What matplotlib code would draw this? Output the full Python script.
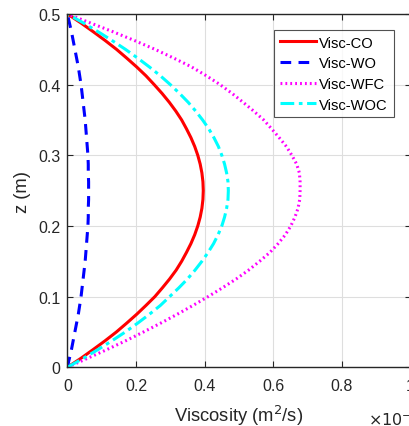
import numpy as np
import matplotlib
matplotlib.use("Agg")
import matplotlib.pyplot as plt

plt.rcParams['font.family'] = ['Liberation Sans', 'DejaVu Sans']

# height (m)
z = [0.0, 0.0125, 0.025, 0.0375, 0.05, 0.0625, 0.075, 0.0875, 0.1, 0.1125,
     0.125, 0.1375, 0.15, 0.1625, 0.175, 0.1875, 0.2, 0.2125, 0.225, 0.2375,
     0.25, 0.2625, 0.275, 0.2875, 0.3, 0.3125, 0.325, 0.3375, 0.35, 0.3625,
     0.375, 0.3875, 0.4, 0.4125, 0.425, 0.4375, 0.45, 0.4625, 0.475, 0.4875, 0.5]

# viscosity (x 1e-3 m^2/s)
visc_co = [0.0, 0.039, 0.075, 0.110, 0.143, 0.173, 0.202, 0.229, 0.255, 0.277,
           0.298, 0.317, 0.333, 0.347, 0.360, 0.371, 0.380, 0.387, 0.392, 0.395,
           0.396, 0.395, 0.392, 0.387, 0.380, 0.371, 0.360, 0.347, 0.333, 0.316,
           0.297, 0.276, 0.253, 0.229, 0.202, 0.173, 0.143, 0.110, 0.075, 0.039, 0.0]
visc_wo = [0.0, 0.006, 0.012, 0.017, 0.022, 0.027, 0.032, 0.036, 0.040, 0.043,
           0.046, 0.049, 0.052, 0.054, 0.056, 0.058, 0.060, 0.061, 0.061, 0.062,
           0.062, 0.062, 0.061, 0.061, 0.060, 0.058, 0.056, 0.054, 0.052, 0.049,
           0.046, 0.043, 0.040, 0.036, 0.032, 0.027, 0.022, 0.017, 0.012, 0.006, 0.0]
visc_wfc = [0.0, 0.058, 0.115, 0.170, 0.222, 0.272, 0.320, 0.366, 0.410, 0.452,
            0.492, 0.528, 0.560, 0.590, 0.614, 0.635, 0.651, 0.663, 0.672, 0.677,
            0.678, 0.678, 0.676, 0.668, 0.654, 0.638, 0.617, 0.595, 0.572, 0.543,
            0.512, 0.480, 0.445, 0.405, 0.362, 0.310, 0.255, 0.195, 0.132, 0.066, 0.0]
visc_woc = [0.0, 0.046, 0.089, 0.130, 0.169, 0.205, 0.239, 0.271, 0.298, 0.325,
            0.350, 0.372, 0.392, 0.410, 0.426, 0.439, 0.450, 0.458, 0.464, 0.468,
            0.469, 0.468, 0.464, 0.458, 0.450, 0.440, 0.427, 0.412, 0.394, 0.374,
            0.352, 0.327, 0.300, 0.271, 0.239, 0.205, 0.169, 0.130, 0.089, 0.046, 0.0]

fig = plt.figure(figsize=(4.09, 4.27), dpi=100)
ax = fig.add_axes([0.1646, 0.1375, 0.8394, 0.8275])

ax.plot(visc_co, z, color='red', lw=2.2, label='Visc-CO')
ax.plot(visc_wo, z, color='blue', lw=2.2, ls=(0, (3.5, 2.4)), label='Visc-WO')
ax.plot(visc_wfc, z, color='magenta', lw=2.2, ls=(0, (0.6, 1.0)), label='Visc-WFC')
ax.plot(visc_woc, z, color='cyan', lw=2.2, ls=(0, (4.5, 1.5, 1.2, 1.5)), label='Visc-WOC')

ax.set_xlim(0, 1)
ax.set_ylim(0, 0.5)
ax.set_xticks([0, 0.2, 0.4, 0.6, 0.8, 1.0])
ax.set_xticklabels(['0', '0.2', '0.4', '0.6', '0.8', '1'])
ax.set_yticks([0, 0.1, 0.2, 0.3, 0.4, 0.5])
ax.set_yticklabels(['0', '0.1', '0.2', '0.3', '0.4', '0.5'])
ax.grid(True, color='#dedede', lw=0.8)
ax.tick_params(direction='in', top=True, right=True, length=4, width=0.8,
               colors='#262626', labelsize=11.5, labelcolor='#262626')
ax.tick_params(axis='x', pad=7.5)
ax.tick_params(axis='y', pad=5)
for s in ax.spines.values():
    s.set_color('#262626')
    s.set_linewidth(1.0)

ax.set_xlabel('Viscosity (m$^2$/s)', fontsize=13.2, color='#262626', labelpad=7)
ax.set_ylabel('z (m)', fontsize=13.2, color='#262626', labelpad=5)
fig.text(0.9, 0.003, r'$\times10^{-3}$', fontsize=11.5, color='#262626')

leg = ax.legend(loc='upper right', bbox_to_anchor=(0.963, 0.928),
                bbox_transform=fig.transFigure, fontsize=10.6, frameon=True,
                fancybox=False, edgecolor='#262626', handlelength=2.5,
                handletextpad=0.2, borderpad=0.4, labelspacing=0.45,
                borderaxespad=0)
leg.get_frame().set_linewidth(0.8)

fig.savefig('out.png', dpi=100)
